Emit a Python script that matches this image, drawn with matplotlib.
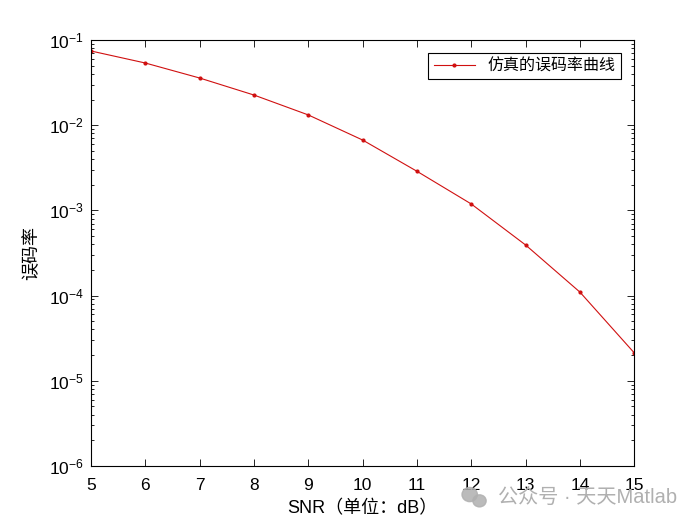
import matplotlib
matplotlib.use("Agg")
from matplotlib import pyplot as plt
from matplotlib.patches import Ellipse
from matplotlib.ticker import LogLocator, NullFormatter
import numpy as np

plt.rcParams['font.family'] = ['Liberation Sans', 'Noto Sans CJK SC', 'DejaVu Sans']

snr = [5, 6, 7, 8, 9, 10, 11, 12, 13, 14, 15]
ber = [0.0743, 0.0537, 0.0358, 0.0226, 0.0132, 0.0067, 0.00288, 0.00119,
       3.93e-4, 1.10e-4, 2.13e-5]
xticks = list(range(5, 16))

fig = plt.figure(figsize=(7, 5.25), dpi=100)
ax = fig.add_axes([0.13, 0.1124, 0.776, 0.8114])

ax.semilogy(snr, ber, color="#d01010", lw=0.8, marker=".", markersize=4,
            label="仿真的误码率曲线")

ax.set_xlim(5, 15)
ax.set_ylim(1e-6, 1e-1)
ax.set_xticks(xticks)
ax.yaxis.set_major_locator(LogLocator(base=10, numticks=10))
ax.yaxis.set_minor_locator(LogLocator(base=10, subs=np.arange(2, 10), numticks=10))
ax.yaxis.set_minor_formatter(NullFormatter())

ax.tick_params(which="both", direction="in", top=True, right=True,
               labelsize=12.5, colors="black", width=0.6)
ax.tick_params(which="major", length=5)
ax.tick_params(which="minor", length=2.5)
ax.tick_params(axis="x", pad=9)
ax.tick_params(axis="y", pad=5)
for sp in ax.spines.values():
    sp.set_linewidth(0.8)

ax.set_xlabel("SNR（单位：dB）", fontsize=13, labelpad=5)
ax.set_ylabel("误码率", fontsize=13, labelpad=6)

leg = ax.legend(loc="upper right", fontsize=11.5, fancybox=False,
                edgecolor="black", framealpha=1, borderaxespad=0.8,
                handlelength=2.6, borderpad=0.35)
leg.get_frame().set_linewidth(0.8)

# watermark (also overlaps the tick labels in the original)
wm = "#b0b0b0"
fig.patches.append(Ellipse((0.671, 0.058), 0.022, 0.027, color=wm,
                           transform=fig.transFigure, alpha=0.85))
fig.patches.append(Ellipse((0.685, 0.046), 0.019, 0.023, color=wm,
                           transform=fig.transFigure, alpha=0.85))
fig.text(0.968, 0.053, "公众号 · 天天Matlab", fontsize=14.5, color=wm,
         ha="right", va="center")

fig.savefig("out.png", dpi=100, facecolor="white")
